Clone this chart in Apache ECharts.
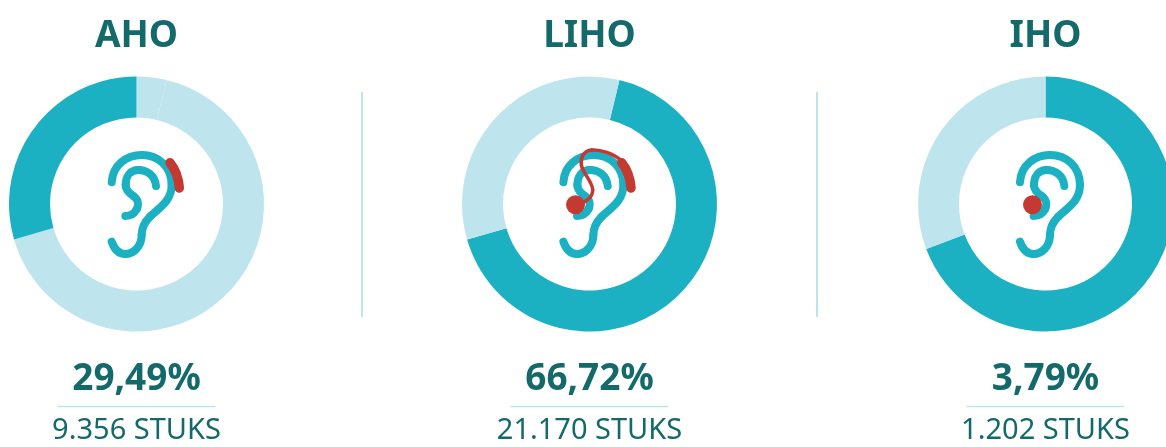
<!DOCTYPE html>
<html>
<head>
<meta charset="utf-8">
<style>
  html, body { margin: 0; padding: 0; background: #fff; overflow: hidden; }
  #myChart { width: 1166px; height: 447px; }
</style>
<script src="https://cdn.jsdelivr.net/npm/echarts@6/dist/echarts.min.js"></script>
</head>
<body>
<div id="myChart"></div>
<script>
var names = ['AHO', 'LIHO', 'IHO'];
var percents = ['29,49%', '66,72%', '3,79%'];
var units = ['9.356 STUKS', '21.170 STUKS', '1.202 STUKS'];

// ring slices
var ahoSlices = [3.79, 66.72, 29.49];
var lihoSlices = [66.72, 33.28];
var ihoSlices = [69.25, 30.75];

var dark = '#1cb1c2';
var light = '#bee4ee';
var red = '#c43a33';
var textColor = '#14696b';

var ahoColors = [light, light, dark];
var lihoColors = [dark, light];
var ihoColors = [dark, light];

var centers = [136.5, 589.5, 1045.5];
var startAngles = [90, 76.4, 90];
var allSlices = [ahoSlices, lihoSlices, ihoSlices];
var allColors = [ahoColors, lihoColors, ihoColors];

// ear outlines as start point + bezier triples, in 3x units
var earOuter = [65,157, 68,105,110,75,155,75, 205,75,245,110,245,165, 245,215,205,235,180,260, 165,275,155,290,155,315, 155,350,130,372,105,372, 85,372,72,355,65,335];
var earInner = [198,168, 195,135,170,120,145,120, 120,120,107,140,107,165, 107,180,118,190,130,198, 145,208,147,225,140,238, 133,252,120,258,106,258];
var hump = [240,98, 258,120,266,150,268,174];
var wire = [243,95, 215,70,175,58,150,60, 125,62,115,85,119,105, 123,130,153,155,153,180, 153,205,130,215,110,225];

// one bezierCurve element per segment, the graphic component has no path type
function curve(pts, x, color, width, z) {
  var out = [];
  function px(k) { return x + pts[k] / 3; }
  function py(k) { return 130 + pts[k] / 3; }
  for (var i = 2; i + 5 < pts.length; i += 6) {
    out.push({
      type: 'bezierCurve', silent: true, z: z,
      shape: {
        x1: px(i - 2), y1: py(i - 1),
        cpx1: px(i), cpy1: py(i + 1),
        cpx2: px(i + 2), cpy2: py(i + 3),
        x2: px(i + 4), y2: py(i + 5)
      },
      style: { fill: null, stroke: color, lineWidth: width, lineCap: 'round' }
    });
  }
  return out;
}

function ball(x) {
  return { type: 'circle', silent: true, z: 7, shape: { cx: x, cy: 204.7, r: 9.5 }, style: { fill: red } };
}

function label(text, x, y, size, weight) {
  return {
    type: 'text', silent: true, x: x, y: y,
    style: {
      text: text, fill: textColor, align: 'center', verticalAlign: 'middle',
      font: weight + ' ' + size + 'px "Noto Sans"'
    }
  };
}

var earX = [90, 541.7, 998.3];
var graphics = [
  { type: 'line', silent: true, shape: { x1: 362, y1: 92, x2: 362, y2: 317 }, style: { stroke: light, lineWidth: 2 } },
  { type: 'line', silent: true, shape: { x1: 817, y1: 92, x2: 817, y2: 317 }, style: { stroke: light, lineWidth: 2 } }
];

names.forEach(function (name, i) {
  graphics.push(label(name, centers[i], 36, 37, 'bold'));
  graphics.push(label(percents[i], centers[i], 379, 37, 'bold'));
  graphics.push(label(units[i], centers[i], 431, 29, 'normal'));
  graphics.push({
    type: 'line', silent: true,
    shape: { x1: centers[i] - 79, y1: 406.5, x2: centers[i] + 79, y2: 406.5 },
    style: { stroke: light, lineWidth: 1.5 }
  });
  graphics = graphics.concat(curve(earOuter, earX[i], dark, 8, 5), curve(earInner, earX[i], dark, 8, 5));
});
// red parts of the ears
graphics = graphics.concat(curve(hump, earX[0], red, 9.5, 6), curve(hump, earX[1], red, 9.5, 6), curve(wire, earX[1], red, 3.5, 6));
graphics.push(ball(575.5));
graphics.push(ball(1032.5));

var series = allSlices.map(function (values, i) {
  return {
    type: 'pie',
    center: [centers[i], 204],
    radius: [86.5, 127.5],
    startAngle: startAngles[i],
    clockwise: true,
    silent: true,
    label: { show: false },
    labelLine: { show: false },
    itemStyle: { borderWidth: 0 },
    data: values.map(function (v, j) {
      return { value: v, itemStyle: { color: allColors[i][j] } };
    })
  };
});

var myChart = echarts.init(document.getElementById('myChart'));
myChart.setOption({
  animation: false,
  backgroundColor: '#fff',
  tooltip: { show: false },
  legend: { show: false },
  series: series,
  graphic: graphics
});
</script>
</body>
</html>
